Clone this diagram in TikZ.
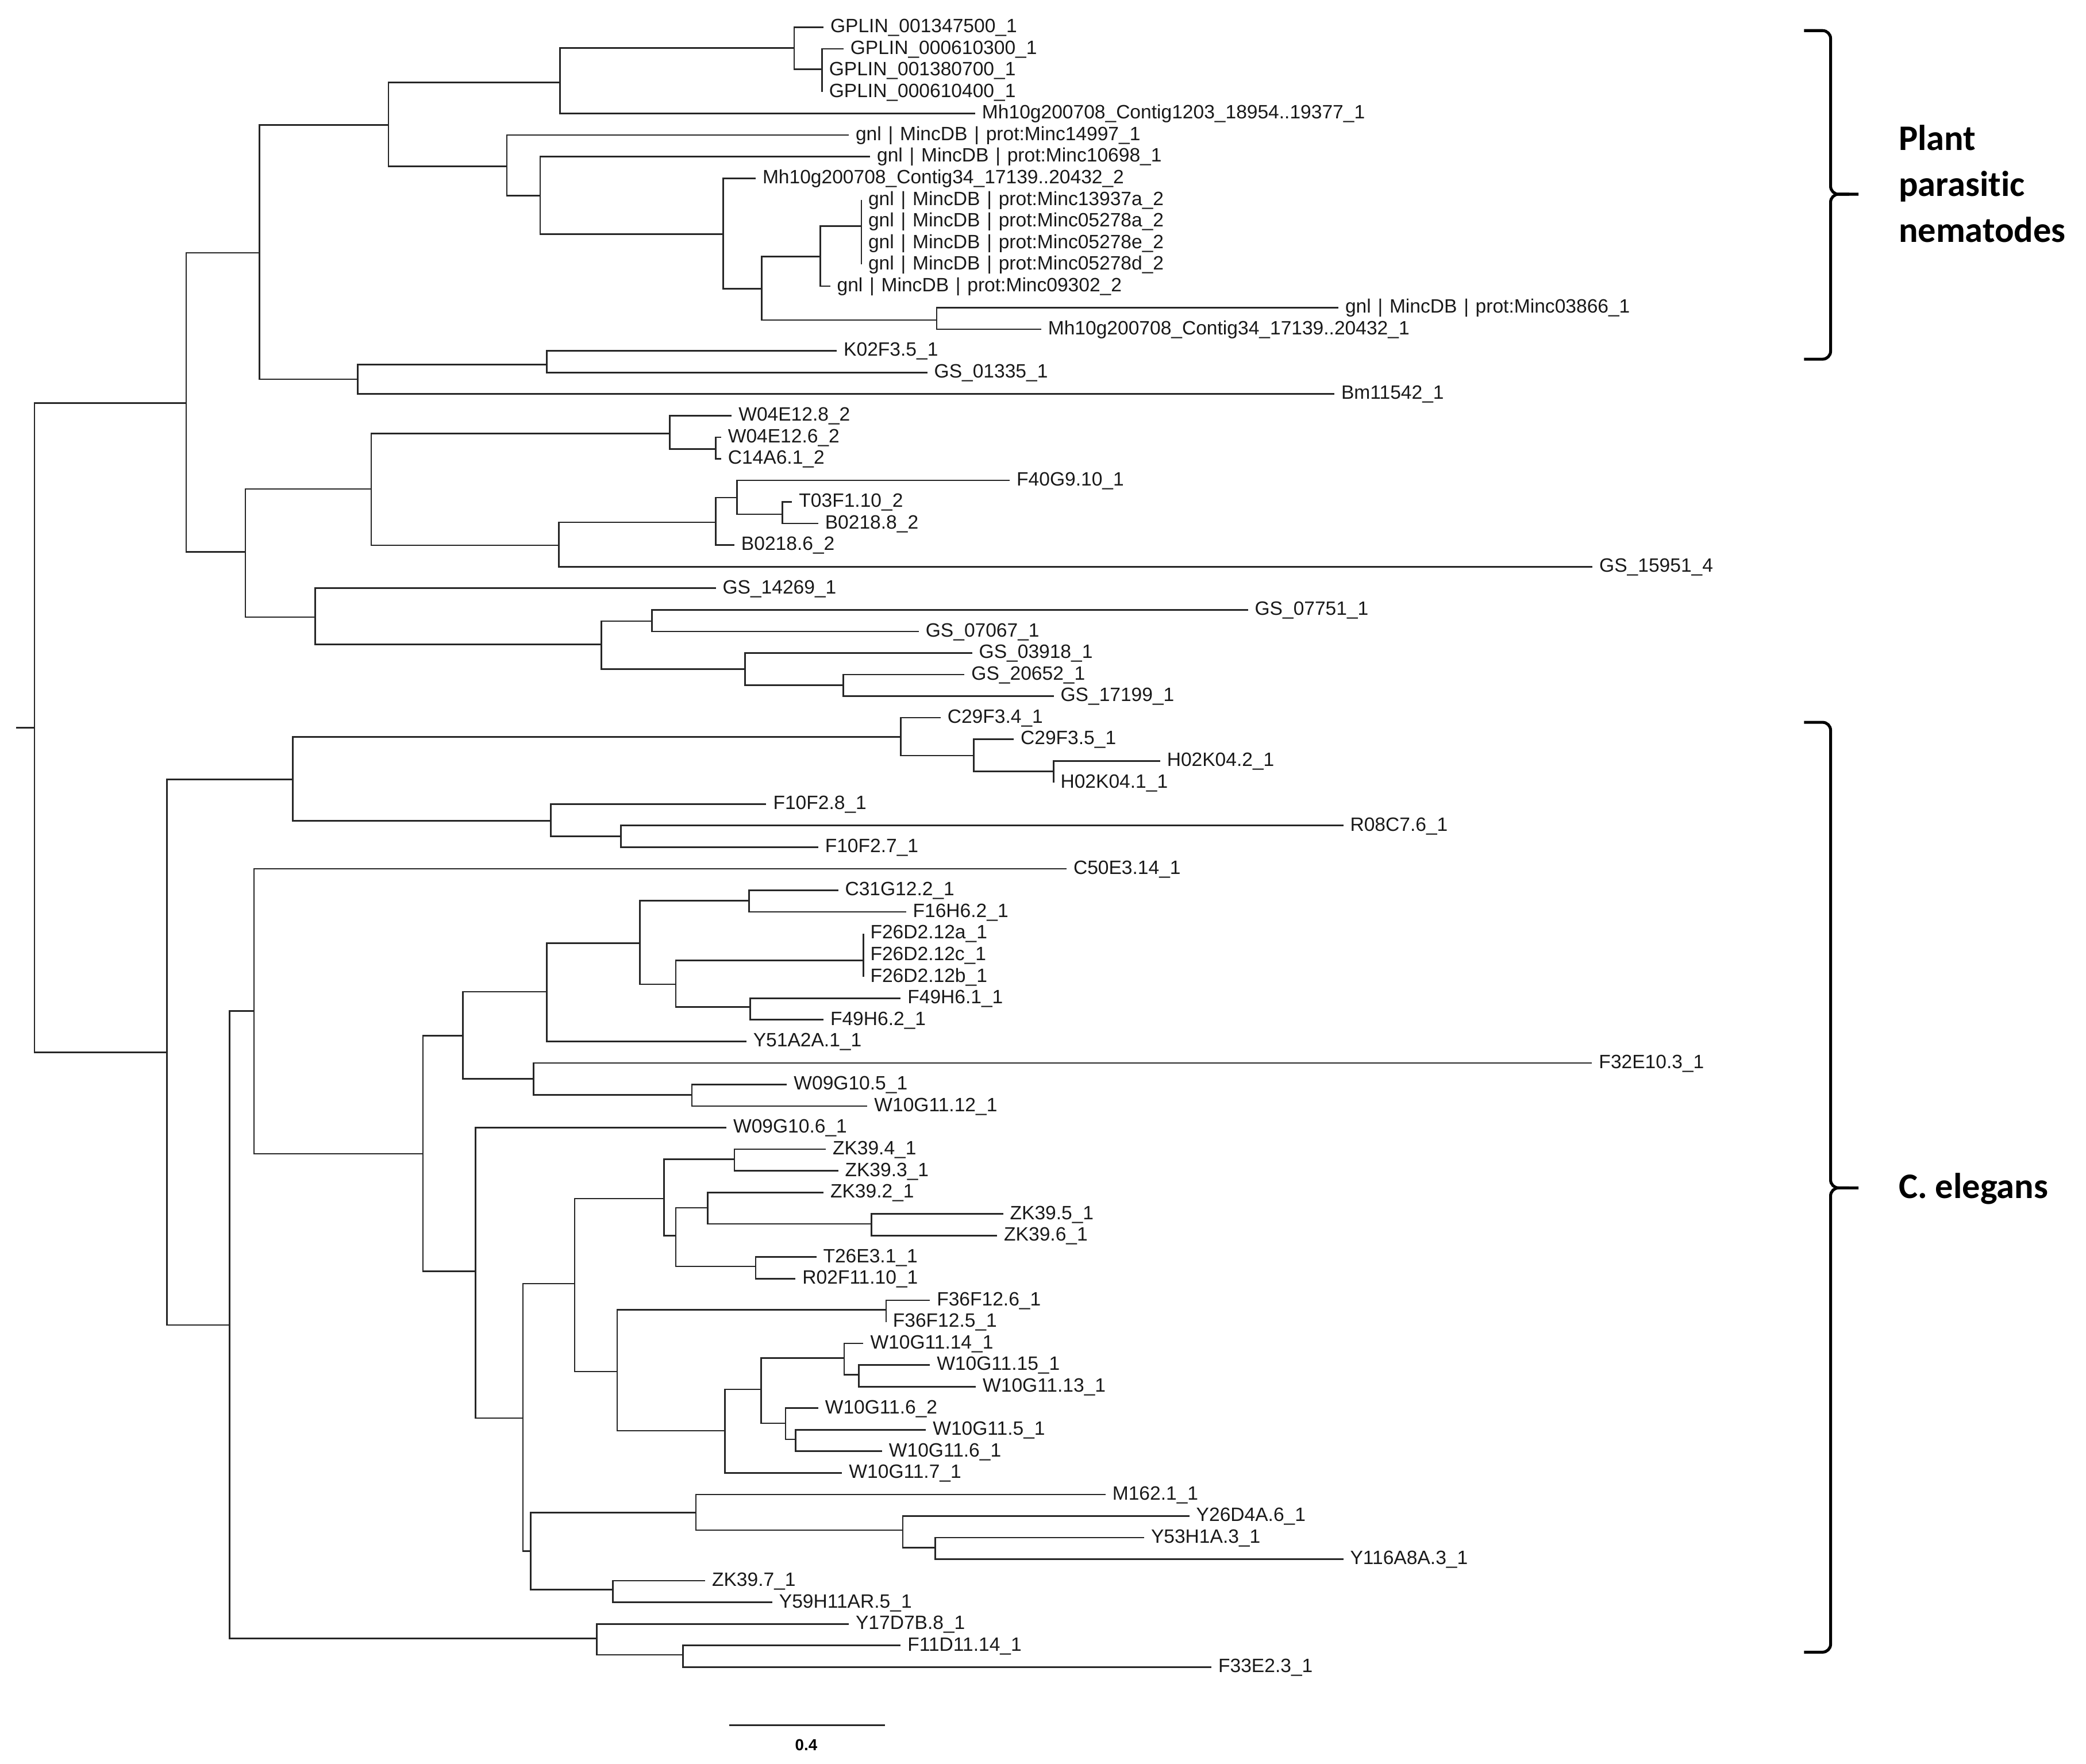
\documentclass[tikz,border=0pt]{standalone}
\usepackage{fontspec}
\setmainfont{Liberation Sans}
\newfontfamily\groupfont[Ligatures=NoCommon]{Carlito}
\newcommand{\mincbar}{\hspace{0.35em}|\hspace{0.35em}}
\begin{document}
\begin{tikzpicture}[x=1pt, y=-1pt,
		branch/.style={draw=black!85, line width=1.1pt},
		leaf/.style={anchor=west, inner xsep=5pt, inner ysep=0pt, text height=10pt, text depth=2pt, text=black!90, font=\fontsize{14.5}{16}\selectfont},
		groupbrace/.style={draw=black, line width=2.2pt, rounded corners=6pt},
		grouplabel/.style={anchor=west, align=left, inner sep=0pt, font=\groupfont\bfseries\fontsize{27}{34.6}\selectfont}]
	\useasboundingbox (0,0) rectangle (1568,1326);

	% leaves, upper half
	\node[leaf](gplin1347500) at (619,20.5){GPLIN\_001347500\_1};
	\node[leaf](gplin610300) at (634,36.7){GPLIN\_000610300\_1};
	\node[leaf](gplin1380700) at (618,52.9){GPLIN\_001380700\_1};
	\node[leaf](gplin610400) at (618,69.2){GPLIN\_000610400\_1};
	\node[leaf](mhContigA) at (733,85.4){Mh10g200708\_Contig1203\_18954..19377\_1};
	\node[leaf](minc14997) at (638,101.6){gnl\mincbar MincDB\mincbar prot:Minc14997\_1};
	\node[leaf](minc10698) at (654,117.8){gnl\mincbar MincDB\mincbar prot:Minc10698\_1};
	\node[leaf](mhContigB) at (568,134.0){Mh10g200708\_Contig34\_17139..20432\_2};
	\node[leaf](minc13937a) at (647.5,150.3){gnl\mincbar MincDB\mincbar prot:Minc13937a\_2};
	\node[leaf](minc05278a) at (647.5,166.5){gnl\mincbar MincDB\mincbar prot:Minc05278a\_2};
	\node[leaf](minc05278e) at (647.5,182.7){gnl\mincbar MincDB\mincbar prot:Minc05278e\_2};
	\node[leaf](minc05278d) at (647.5,198.9){gnl\mincbar MincDB\mincbar prot:Minc05278d\_2};
	\node[leaf](minc09302) at (624,215.1){gnl\mincbar MincDB\mincbar prot:Minc09302\_2};
	\node[leaf](minc03866) at (1006,231.4){gnl\mincbar MincDB\mincbar prot:Minc03866\_1};
	\node[leaf](mhContigC) at (782.6,247.6){Mh10g200708\_Contig34\_17139..20432\_1};
	\node[leaf](k02f35) at (629,263.8){K02F3.5\_1};
	\node[leaf](gs01335) at (697,280.0){GS\_01335\_1};
	\node[leaf](bm11542) at (1003,296.2){Bm11542\_1};
	\node[leaf](w04e128) at (550,312.5){W04E12.8\_2};
	\node[leaf](w04e126) at (542,328.7){W04E12.6\_2};
	\node[leaf](c14a61) at (542,344.9){C14A6.1\_2};
	\node[leaf](f40g910) at (759,361.1){F40G9.10\_1};
	\node[leaf](t03f110) at (595.4,377.3){T03F1.10\_2};
	\node[leaf](b02188) at (615,393.6){B0218.8\_2};
	\node[leaf](b02186) at (552,409.8){B0218.6\_2};
	\node[leaf](gs15951) at (1197,426.0){GS\_15951\_4};
	\node[leaf](gs14269) at (538,442.2){GS\_14269\_1};
	\node[leaf](gs07751) at (938,458.4){GS\_07751\_1};
	\node[leaf](gs07067) at (690.6,474.7){GS\_07067\_1};
	\node[leaf](gs03918) at (730.7,490.9){GS\_03918\_1};
	\node[leaf](gs20652) at (725,507.1){GS\_20652\_1};
	\node[leaf](gs17199) at (792,523.3){GS\_17199\_1};

	% leaves, lower half
	\node[leaf](c29f34) at (707,539.5){C29F3.4\_1};
	\node[leaf](c29f35) at (762,555.8){C29F3.5\_1};
	\node[leaf](h02k042) at (872,572.0){H02K04.2\_1};
	\node[leaf](h02k041) at (792,588.2){H02K04.1\_1};
	\node[leaf](f10f28) at (576,604.4){F10F2.8\_1};
	\node[leaf](r08c76) at (1009.7,620.6){R08C7.6\_1};
	\node[leaf](f10f27) at (615,636.9){F10F2.7\_1};
	\node[leaf](c50e314) at (801.7,653.1){C50E3.14\_1};
	\node[leaf](c31g122) at (630,669.3){C31G12.2\_1};
	\node[leaf](f16h62) at (681,685.5){F16H6.2\_1};
	\node[leaf](f26d212a) at (649,701.7){F26D2.12a\_1};
	\node[leaf](f26d212c) at (649,718.0){F26D2.12c\_1};
	\node[leaf](f26d212b) at (649,734.2){F26D2.12b\_1};
	\node[leaf](f49h61) at (677,750.4){F49H6.1\_1};
	\node[leaf](f49h62) at (619,766.6){F49H6.2\_1};
	\node[leaf](y51a2a1) at (561,782.8){Y51A2A.1\_1};
	\node[leaf](f32e103) at (1196.7,799.1){F32E10.3\_1};
	\node[leaf](w09g105) at (591.5,815.3){W09G10.5\_1};
	\node[leaf](w10g1112) at (652,831.5){W10G11.12\_1};
	\node[leaf](w09g106) at (546,847.7){W09G10.6\_1};
	\node[leaf](zk394) at (620.7,863.9){ZK39.4\_1};
	\node[leaf](zk393) at (630,880.2){ZK39.3\_1};
	\node[leaf](zk392) at (619,896.4){ZK39.2\_1};
	\node[leaf](zk395) at (754,912.6){ZK39.5\_1};
	\node[leaf](zk396) at (749.5,928.8){ZK39.6\_1};
	\node[leaf](t26e31) at (613.6,945.0){T26E3.1\_1};
	\node[leaf](r02f1110) at (598,961.3){R02F11.10\_1};
	\node[leaf](f36f126) at (699,977.5){F36F12.6\_1};
	\node[leaf](f36f125) at (666,993.7){F36F12.5\_1};
	\node[leaf](w10g1114) at (649,1009.9){W10G11.14\_1};
	\node[leaf](w10g1115) at (699,1026.1){W10G11.15\_1};
	\node[leaf](w10g1113) at (733.5,1042.4){W10G11.13\_1};
	\node[leaf](w10g116b) at (615,1058.6){W10G11.6\_2};
	\node[leaf](w10g115) at (696,1074.8){W10G11.5\_1};
	\node[leaf](w10g116a) at (663,1091.0){W10G11.6\_1};
	\node[leaf](w10g117) at (633,1107.2){W10G11.7\_1};
	\node[leaf](m1621) at (831,1123.5){M162.1\_1};
	\node[leaf](y26d4a6) at (894,1139.7){Y26D4A.6\_1};
	\node[leaf](y53h1a3) at (860,1155.9){Y53H1A.3\_1};
	\node[leaf](y116a8a3) at (1009.7,1172.1){Y116A8A.3\_1};
	\node[leaf](zk397) at (530,1188.3){ZK39.7\_1};
	\node[leaf](y59h11ar5) at (580.5,1204.6){Y59H11AR.5\_1};
	\node[leaf](y17d7b8) at (638,1220.8){Y17D7B.8\_1};
	\node[leaf](f11d1114) at (677,1237.0){F11D11.14\_1};
	\node[leaf](f33e23) at (910.6,1253.2){F33E2.3\_1};

	% split points
	\coordinate (rootStub) at (12,547);
	\coordinate (root) at (26,547);
	\coordinate (splitA) at (140,303);
	\coordinate (splitB) at (195,190);
	\coordinate (splitC) at (292,94);
	\coordinate (splitD) at (421,62);
	\coordinate (splitE) at (597,36);
	\coordinate (splitF) at (618,52);
	\coordinate (splitH) at (381,125);
	\coordinate (splitI) at (406,147);
	\coordinate (splitJ) at (543.5,176);
	\coordinate (splitK) at (572.5,217);
	\coordinate (splitL) at (616.5,192.8);
	\coordinate (splitM) at (647.5,170);
	\coordinate (splitN) at (704,240.6);
	\coordinate (splitO) at (269,285);
	\coordinate (splitP) at (411,274);
	\coordinate (splitQ) at (184.5,415);
	\coordinate (splitR) at (279,367.5);
	\coordinate (splitS) at (503.5,326);
	\coordinate (splitT) at (538,337.6);
	\coordinate (splitU) at (420,410);
	\coordinate (splitV) at (538,392.7);
	\coordinate (splitW) at (554,374);
	\coordinate (splitX) at (588,386.5);
	\coordinate (splitY) at (237,464);
	\coordinate (splitZ) at (452,484.5);
	\coordinate (splitAA) at (490,467);
	\coordinate (splitAB) at (560,503);
	\coordinate (splitAC) at (634,515);

	\coordinate (splitBA) at (125.4,791);
	\coordinate (splitBB) at (220,586);
	\coordinate (splitBC) at (414,617);
	\coordinate (splitBD) at (466.7,628.7);
	\coordinate (splitBE) at (172.6,996);
	\coordinate (splitBF) at (191,760);
	\coordinate (splitBG) at (318,867.3);
	\coordinate (splitBH) at (348,778.6);
	\coordinate (splitBI) at (411,745.5);
	\coordinate (splitBJ) at (481,709);
	\coordinate (splitBK) at (563,677);
	\coordinate (splitBL) at (508,740);
	\coordinate (splitBM) at (401,811);
	\coordinate (splitBN) at (520,823);
	\coordinate (splitBO) at (357.4,955.6);
	\coordinate (splitBP) at (393,1066);
	\coordinate (splitBQ) at (432,965);
	\coordinate (splitBR) at (499,901);
	\coordinate (splitBS) at (552,871.5);
	\coordinate (splitBT) at (508,929);
	\coordinate (splitBU) at (532,908);
	\coordinate (splitBV) at (655,920);
	\coordinate (splitBW) at (568,952);
	\coordinate (splitBX) at (464,1031);
	\coordinate (splitBY) at (545,1075.6);
	\coordinate (splitBZ) at (399,1166);
	\coordinate (splitCA) at (523,1137);
	\coordinate (splitCB) at (460.6,1195);
	\coordinate (splitCC) at (448.5,1231.6);
	\coordinate (splitCD) at (513.4,1244);
	\coordinate (splitCE) at (677,554);
	\coordinate (splitCF) at (732,568);
	\coordinate (splitCG) at (792,580);
	\coordinate (splitCH) at (649,722);
	\coordinate (splitCI) at (564,757);
	\coordinate (splitCJ) at (666,984.6);
	\coordinate (splitCK) at (634.5,1021);
	\coordinate (splitCL) at (645.5,1033.5);
	\coordinate (splitCM) at (572,1044.5);
	\coordinate (splitCN) at (590.5,1070);
	\coordinate (splitCO) at (598,1082);
	\coordinate (splitCP) at (678.5,1150.3);
	\coordinate (splitCQ) at (703,1163.5);

	% branches
	\draw[branch] (rootStub) -- (root);
	\draw[branch] (root) |- (splitA) (root) |- (splitBA);
	\draw[branch] (splitA) |- (splitB) (splitA) |- (splitQ);
	\draw[branch] (splitB) |- (splitC) (splitB) |- (splitO);
	\draw[branch] (splitC) |- (splitD) (splitC) |- (splitH);
	\draw[branch] (splitD) |- (splitE) (splitD) |- (mhContigA.west);
	\draw[branch] (splitE) |- (gplin1347500.west) (splitE) |- (splitF);
	\draw[branch] (splitF) |- (gplin610300.west) (splitF) |- (gplin1380700.west) (splitF) |- (gplin610400.west);
	\draw[branch] (splitH) |- (minc14997.west) (splitH) |- (splitI);
	\draw[branch] (splitI) |- (minc10698.west) (splitI) |- (splitJ);
	\draw[branch] (splitJ) |- (mhContigB.west) (splitJ) |- (splitK);
	\draw[branch] (splitK) |- (splitL) (splitK) |- (splitN);
	\draw[branch] (splitL) |- (splitM) (splitL) |- (minc09302.west);
	\draw[branch] (splitM) |- (minc13937a.west) (splitM) |- (minc05278d.west);
	\draw[branch] (splitN) |- (minc03866.west) (splitN) |- (mhContigC.west);
	\draw[branch] (splitO) |- (splitP) (splitO) |- (bm11542.west);
	\draw[branch] (splitP) |- (k02f35.west) (splitP) |- (gs01335.west);
	\draw[branch] (splitQ) |- (splitR) (splitQ) |- (splitY);
	\draw[branch] (splitR) |- (splitS) (splitR) |- (splitU);
	\draw[branch] (splitS) |- (w04e128.west) (splitS) |- (splitT);
	\draw[branch] (splitT) |- (w04e126.west) (splitT) |- (c14a61.west);
	\draw[branch] (splitU) |- (splitV) (splitU) |- (gs15951.west);
	\draw[branch] (splitV) |- (splitW) (splitV) |- (b02186.west);
	\draw[branch] (splitW) |- (f40g910.west) (splitW) |- (splitX);
	\draw[branch] (splitX) |- (t03f110.west) (splitX) |- (b02188.west);
	\draw[branch] (splitY) |- (gs14269.west) (splitY) |- (splitZ);
	\draw[branch] (splitZ) |- (splitAA) (splitZ) |- (splitAB);
	\draw[branch] (splitAA) |- (gs07751.west) (splitAA) |- (gs07067.west);
	\draw[branch] (splitAB) |- (gs03918.west) (splitAB) |- (splitAC);
	\draw[branch] (splitAC) |- (gs20652.west) (splitAC) |- (gs17199.west);

	\draw[branch] (splitBA) |- (splitBB) (splitBA) |- (splitBE);
	\draw[branch] (splitBB) |- (splitCE) (splitBB) |- (splitBC);
	\draw[branch] (splitCE) |- (c29f34.west) (splitCE) |- (splitCF);
	\draw[branch] (splitCF) |- (c29f35.west) (splitCF) |- (splitCG);
	\draw[branch] (splitCG) |- (h02k042.west) (splitCG) |- (h02k041.west);
	\draw[branch] (splitBC) |- (f10f28.west) (splitBC) |- (splitBD);
	\draw[branch] (splitBD) |- (r08c76.west) (splitBD) |- (f10f27.west);
	\draw[branch] (splitBE) |- (splitBF) (splitBE) |- (splitCC);
	\draw[branch] (splitBF) |- (c50e314.west) (splitBF) |- (splitBG);
	\draw[branch] (splitBG) |- (splitBH) (splitBG) |- (splitBO);
	\draw[branch] (splitBH) |- (splitBI) (splitBH) |- (splitBM);
	\draw[branch] (splitBI) |- (splitBJ) (splitBI) |- (y51a2a1.west);
	\draw[branch] (splitBJ) |- (splitBK) (splitBJ) |- (splitBL);
	\draw[branch] (splitBK) |- (c31g122.west) (splitBK) |- (f16h62.west);
	\draw[branch] (splitBL) |- (splitCH) (splitBL) |- (splitCI);
	\draw[branch] (splitCH) |- (f26d212a.west) (splitCH) |- (f26d212b.west);
	\draw[branch] (splitCI) |- (f49h61.west) (splitCI) |- (f49h62.west);
	\draw[branch] (splitBM) |- (f32e103.west) (splitBM) |- (splitBN);
	\draw[branch] (splitBN) |- (w09g105.west) (splitBN) |- (w10g1112.west);
	\draw[branch] (splitBO) |- (w09g106.west) (splitBO) |- (splitBP);
	\draw[branch] (splitBP) |- (splitBQ) (splitBP) |- (splitBZ);
	\draw[branch] (splitBQ) |- (splitBR) (splitBQ) |- (splitBX);
	\draw[branch] (splitBR) |- (splitBS) (splitBR) |- (splitBT);
	\draw[branch] (splitBS) |- (zk394.west) (splitBS) |- (zk393.west);
	\draw[branch] (splitBT) |- (splitBU) (splitBT) |- (splitBW);
	\draw[branch] (splitBU) |- (zk392.west) (splitBU) |- (splitBV);
	\draw[branch] (splitBV) |- (zk395.west) (splitBV) |- (zk396.west);
	\draw[branch] (splitBW) |- (t26e31.west) (splitBW) |- (r02f1110.west);
	\draw[branch] (splitBX) |- (splitCJ) (splitBX) |- (splitBY);
	\draw[branch] (splitCJ) |- (f36f126.west) (splitCJ) |- (f36f125.west);
	\draw[branch] (splitBY) |- (splitCM) (splitBY) |- (w10g117.west);
	\draw[branch] (splitCM) |- (splitCK) (splitCM) |- (splitCN);
	\draw[branch] (splitCK) |- (w10g1114.west) (splitCK) |- (splitCL);
	\draw[branch] (splitCL) |- (w10g1115.west) (splitCL) |- (w10g1113.west);
	\draw[branch] (splitCN) |- (w10g116b.west) (splitCN) |- (splitCO);
	\draw[branch] (splitCO) |- (w10g115.west) (splitCO) |- (w10g116a.west);
	\draw[branch] (splitBZ) |- (splitCA) (splitBZ) |- (splitCB);
	\draw[branch] (splitCA) |- (m1621.west) (splitCA) |- (splitCP);
	\draw[branch] (splitCP) |- (y26d4a6.west) (splitCP) |- (splitCQ);
	\draw[branch] (splitCQ) |- (y53h1a3.west) (splitCQ) |- (y116a8a3.west);
	\draw[branch] (splitCB) |- (zk397.west) (splitCB) |- (y59h11ar5.west);
	\draw[branch] (splitCC) |- (y17d7b8.west) (splitCC) |- (splitCD);
	\draw[branch] (splitCD) |- (f11d1114.west) (splitCD) |- (f33e23.west);

	% scale bar
	\coordinate (scaleLeft) at (548,1297);
	\coordinate (scaleRight) at (665,1297);
	\draw[branch] (scaleLeft) -- (scaleRight);
	\node[font=\fontsize{12}{13}\selectfont\bfseries, inner sep=0pt](scaleText) at (606,1312){0.4};

	% group braces
	\draw[groupbrace] (1356,23) -- (1376,23) -- (1376,146) -- (1397,146);
	\draw[groupbrace] (1356,270) -- (1376,270) -- (1376,146) -- (1390,146);
	\node[grouplabel](plantText) at (1427,138){Plant\\parasitic\\nematodes};

	\draw[groupbrace] (1356,543) -- (1376,543) -- (1376,893) -- (1397,893);
	\draw[groupbrace] (1356,1242) -- (1376,1242) -- (1376,893) -- (1390,893);
	\node[grouplabel, anchor=base west](elegansText) at (1427,901){C. elegans};
\end{tikzpicture}
\end{document}
